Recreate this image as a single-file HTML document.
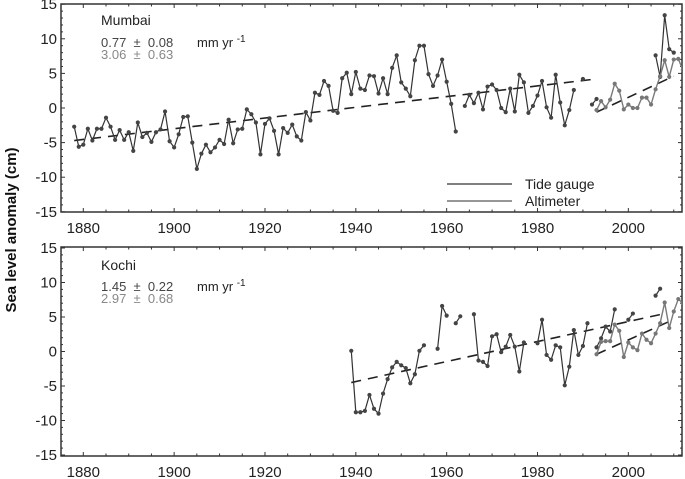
<!DOCTYPE html>
<html><head><meta charset="utf-8">
<style>
html,body{margin:0;padding:0;background:#fff;}
svg{display:block;font-family:"Liberation Sans",sans-serif;}
</style></head>
<body>
<svg id="chart" width="685" height="479" viewBox="0 0 685 479" xmlns="http://www.w3.org/2000/svg">
  <defs>
    <clipPath id="clipTop"><rect x="61" y="4" width="621" height="208"/></clipPath>
    <clipPath id="clipBot"><rect x="61" y="247" width="621" height="209"/></clipPath>
  </defs>
  <text transform="translate(16,230) rotate(-90)" text-anchor="middle" font-size="15" font-weight="bold" fill="#111">Sea level anomaly (cm)</text>

  <g id="top"></g>
  <g id="bot"></g>

  <text x="101" y="25" font-size="14" fill="#222">Mumbai</text>
  <text x="101" y="47" font-size="13" fill="#444" xml:space="preserve">0.77  ±  0.08</text>
  <text x="101" y="59" font-size="13" fill="#888" xml:space="preserve">3.06  ±  0.63</text>
  <text x="197" y="47" font-size="13" fill="#222">mm yr <tspan dy="-5" font-size="10">-1</tspan></text>

  <line x1="447" y1="184" x2="512" y2="184" stroke="#333" stroke-width="1.2"/>
  <text x="525" y="189" font-size="14" fill="#222">Tide gauge</text>
  <line x1="447" y1="201" x2="512" y2="201" stroke="#888" stroke-width="1.8"/>
  <text x="525" y="206" font-size="14" fill="#222">Altimeter</text>

  <text x="101" y="270" font-size="14" fill="#222">Kochi</text>
  <text x="101" y="291" font-size="13" fill="#444" xml:space="preserve">1.45  ±  0.22</text>
  <text x="101" y="303" font-size="13" fill="#888" xml:space="preserve">2.97  ±  0.68</text>
  <text x="197" y="291" font-size="13" fill="#222">mm yr <tspan dy="-5" font-size="10">-1</tspan></text>
</svg>
<script>
const xTickLabels = [1880, 1900, 1920, 1940, 1960, 1980, 2000];
const yTickLabels = [15, 10, 5, 0, -5, -10, -15];

const mumbaiTideStart = 1878;
const mumbaiTide = [-2.7,-5.6,-5.3,-3.0,-4.7,-3.0,-3.0,-1.4,-2.7,-4.6,
-3.2,-4.6,-3.5,-6.2,-2.1,-4.2,-3.6,-4.9,-3.5,-3.1,
-0.5,-4.8,-5.7,-3.8,-1.3,-1.2,-5.0,-8.8,-6.6,-5.3,
-6.4,-5.7,-4.6,-5.2,-1.7,-5.1,-3.1,-3.0,-0.2,-0.9,
-2.1,-6.7,-2.3,-1.5,-3.3,-6.7,-2.9,-3.6,-2.4,-4.1,
-4.7,-0.6,-1.8,2.2,1.9,3.9,3.2,-0.4,-0.7,4.3,
5.1,2.0,5.2,2.8,2.6,4.7,4.6,2.1,4.3,2.0,
5.8,7.6,3.7,2.8,1.7,6.9,9.0,9.0,4.9,3.2,
4.7,7.0,3.8,0.6,-3.4,
null,0.3,1.9,0.7,2.2,-0.2,3.1,3.4,2.6,0.0,-0.6,2.8,-0.5,4.8,3.7,-0.7,0.3,1.8,3.9,0.1,-1.4,4.8,0.8,-2.5,-0.3,2.6,
null,4.2,null,0.5,1.3,
null,null,null,null,null,null,null,null,null,null,null,null,
7.6,4.5,13.4,8.5,8.0];
const mumbaiAltStart = 1993;
const mumbaiAlt = [-0.3,1.0,0.1,1.2,3.5,2.5,-0.2,0.5,0.0,0.0,1.5,1.5,0.5,2.7,4.6,6.9,4.5,7.0,7.1,5.5];
const mumbaiTideTrend = {years:[1878, 1993], values:[-4.7, 4.2]};
const mumbaiAltTrend = {years:[1993, 2010], values:[-0.6, 4.6]};

const kochiTideStart = 1939;
const kochiTide = [0.1,-8.8,-8.8,-8.6,-6.3,-8.3,-9.0,-6.1,-4.0,-2.3,-1.5,-2.0,-2.4,-4.6,-3.3,0.1,0.9,
null,null,0.4,6.6,5.2,null,4.1,5.1,null,null,
5.4,-1.3,-1.5,-2.1,2.2,2.5,-0.1,0.7,2.4,0.7,-2.9,1.3,
null,null,1.2,4.6,-0.5,-1.2,0.9,0.6,-4.9,-2.2,3.1,-0.5,0.8,4.1,
null,0.6,1.9,3.6,2.9,6.1,null,null,4.6,5.5,null,null,null,null,8.1,9.1];
const kochiAltStart = 1993;
const kochiAlt = [-0.4,1.4,1.5,1.5,3.9,3.0,-0.8,1.3,0.6,0.2,2.6,1.7,1.2,2.6,4.1,7.1,3.4,5.8,7.6,7.0];
const kochiTideTrend = {years:[1939, 2008], values:[-4.5, 5.5]};
const kochiAltTrend = {years:[1993, 2010], values:[-0.4, 4.65]};

const NS = "http://www.w3.org/2000/svg";
const X0 = 61, X1 = 682;
function xs(yr){ return 83.3 + (yr - 1880) * 4.542; }
function mk(parent, tag, attrs){
  const e = document.createElementNS(NS, tag);
  for (const k in attrs) e.setAttribute(k, attrs[k]);
  parent.appendChild(e);
  return e;
}

function drawPanel(g, y0, y1, ys, clipId, series, trends){
  const frame = mk(g, 'rect', {x:X0, y:y0, width:X1-X0, height:y1-y0, fill:'none', stroke:'#333', 'stroke-width':1.5});
  
  
  for (let yr = 1880; yr <= 2010; yr += 5){
    const major = yr % 20 === 0;
    const len = major ? 4 : 2.5;
    const x = xs(yr);
    const t1 = mk(g, 'line', {x1:x, x2:x, y1:y1, y2:y1-len, stroke:'#333', 'stroke-width':1});
    
    
    const t2 = mk(g, 'line', {x1:x, x2:x, y1:y0, y2:y0+len, stroke:'#333', 'stroke-width':1});
    
    
  }
  xTickLabels.forEach(v => {
    const t = mk(g, 'text', {x:xs(v), y:y1+21, 'text-anchor':'middle', 'font-size':15, fill:'#222'});
    t.textContent = v;
    
    
  });
  for (let v = -15; v <= 15; v++){
    const major = v % 5 === 0;
    const len = major ? 4 : 2;
    const y = ys(v);
    const a = mk(g, 'line', {x1:X0, x2:X0+len, y1:y, y2:y, stroke:'#333', 'stroke-width':1});
    
    
    const b = mk(g, 'line', {x1:X1, x2:X1-len, y1:y, y2:y, stroke:'#333', 'stroke-width':1});
    
    
  }
  yTickLabels.forEach(v => {
    const t = mk(g, 'text', {x:X0-4, y:ys(v)+5, 'text-anchor':'end', 'font-size':15, fill:'#222'});
    t.textContent = v;
    
    
  });
  const data = mk(g, 'g', {'clip-path':'url(#'+clipId+')'});
  
  
  trends.forEach(tr => {
    const l = mk(data, 'line', {x1:xs(tr.years[0]), y1:ys(tr.values[0]), x2:xs(tr.years[1]), y2:ys(tr.values[1]), stroke:'#222', 'stroke-width':1.6, 'stroke-dasharray':'10 7'});
    
    
  });
  series.forEach(s => {
    let seg = [];
    const flush = () => {
      if (seg.length > 1){
        const p = mk(data, 'polyline', {points:seg.map(q=>q.join(',')).join(' '), fill:'none', stroke:s.color, 'stroke-width':s.w});
        
        
      }
      seg = [];
    };
    s.values.forEach((v,i) => {
      if (v === null){ flush(); return; }
      seg.push([xs(s.start+i).toFixed(2), ys(v).toFixed(2)]);
    });
    flush();
    s.values.forEach((v,i) => {
      if (v === null) return;
      const c = mk(data, 'circle', {cx:xs(s.start+i), cy:ys(v), r:2.1, fill:s.dot});
      
      
    });
  });
}

const topG = document.getElementById('top');
drawPanel(topG, 4, 212, v => 108 - 6.92*v, 'clipTop',
  [{name:'mumbai-tide', start:mumbaiTideStart, values:mumbaiTide, color:'#333', dot:'#444', w:1.2},
   {name:'mumbai-altimeter', start:mumbaiAltStart, values:mumbaiAlt, color:'#7a7a7a', dot:'#777', w:1.4}],
  [mumbaiTideTrend, mumbaiAltTrend]);

const botG = document.getElementById('bot');
drawPanel(botG, 247, 456, v => 351.5 - 6.9*v, 'clipBot',
  [{name:'kochi-tide', start:kochiTideStart, values:kochiTide, color:'#333', dot:'#444', w:1.2},
   {name:'kochi-altimeter', start:kochiAltStart, values:kochiAlt, color:'#7a7a7a', dot:'#777', w:1.4}],
  [kochiTideTrend, kochiAltTrend]);
</script>
</body></html>
